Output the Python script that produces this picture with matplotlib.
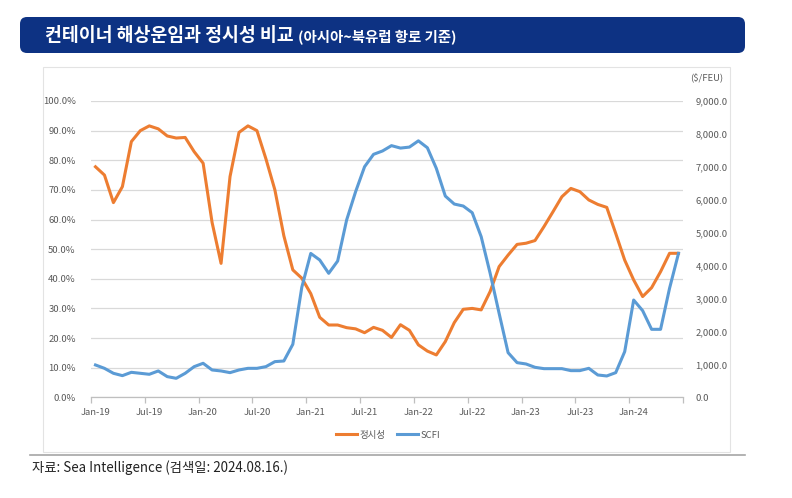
import matplotlib
matplotlib.use('Agg')
import matplotlib.pyplot as plt
from matplotlib.patches import FancyBboxPatch, Rectangle
from matplotlib.ticker import FixedLocator, PercentFormatter, FuncFormatter

plt.rcParams['font.family'] = ['Noto Sans CJK KR', 'DejaVu Sans']

# Consts
ORANGE = '#ED7D31'
BLUE = '#5B9BD5'
GRAY = '#595959'
GRID = '#D9D9D9'
NAVY = '#0D3283'

# monthly, Jan-19 .. Jun-24
on_time = [77.8, 75.0, 65.7, 71.1, 86.3, 90.0, 91.6, 90.6, 88.2, 87.5,
           87.7, 82.9, 79.0, 59.0, 45.2, 74.5, 89.4, 91.6, 90.0, 80.5,
           70.0, 54.5, 43.0, 40.2, 35.0, 27.0, 24.4, 24.4, 23.5, 23.1,
           21.8, 23.6, 22.6, 20.2, 24.5, 22.6, 17.7, 15.6, 14.3, 18.8,
           25.2, 29.7, 30.0, 29.5, 35.7, 44.1, 48.0, 51.6, 52.0, 52.9,
           57.6, 62.6, 67.7, 70.5, 69.4, 66.6, 65.1, 64.1, 55.3, 46.3,
           39.6, 34.0, 37.0, 42.4, 48.6, 48.6]
scfi = [982, 880, 729, 658, 759, 729, 699, 800, 628, 577,
        729, 931, 1033, 830, 800, 749, 830, 880, 880, 931,
        1083, 1103, 1610, 3340, 4370, 4171, 3766, 4140, 5386, 6245,
        7004, 7380, 7482, 7644, 7570, 7600, 7790, 7580, 6953, 6113,
        5870, 5810, 5607, 4879, 3765, 2550, 1356, 1053, 1012, 911,
        870, 870, 870, 810, 810, 880, 678, 648, 749, 1387,
        2955, 2632, 2065, 2065, 3310, 4372]
tick_labels = ['Jan-19', 'Jul-19', 'Jan-20', 'Jul-20', 'Jan-21', 'Jul-21',
               'Jan-22', 'Jul-22', 'Jan-23', 'Jul-23', 'Jan-24']

W, H = 792, 498


def px_box(x0, y0, x1, y1):
    # pixel box (top-left origin) -> figure fraction rect
    return [x0 / W, 1 - y1 / H, (x1 - x0) / W, (y1 - y0) / H]


def main():
    fig = plt.figure(figsize=(W / 100, H / 100), dpi=100)
    fig.patch.set_facecolor('white')

    # decoration layer in pixel units
    deco = fig.add_axes([0, 0, 1, 1], zorder=0)
    deco.set_xlim(0, W)
    deco.set_ylim(H, 0)
    deco.axis('off')
    deco.add_patch(FancyBboxPatch((20, 17), 725, 36,
                                  boxstyle='round,pad=0,rounding_size=7',
                                  facecolor=NAVY, edgecolor='none'))
    title = deco.text(45, 35.5, '컨테이너 해상운임과 정시성 비교', color='white',
                      fontsize=13.2, fontweight='bold', va='center', ha='left')
    # put the subtitle right after the title
    fig.canvas.draw()
    bb = title.get_window_extent()
    sub_x = bb.x1 + 4
    deco.text(sub_x, 36.5, '(아시아~북유럽 항로 기준)', color='white',
              fontsize=10.4, fontweight='bold', va='center', ha='left')
    deco.add_patch(Rectangle((43, 67), 687, 385, facecolor='white',
                             edgecolor='#E3E3E3', linewidth=0.8))
    deco.plot([30, 745], [455, 455], color='#A6A6A6', linewidth=1.2)
    deco.text(32, 468, '자료: Sea Intelligence (검색일: 2024.08.16.)',
              fontsize=9.6, color='#222222', va='center', ha='left')
    deco.text(723, 78, '($/FEU)', fontsize=6.8, color=GRAY,
              va='center', ha='right')

    x = list(range(len(on_time)))

    ax = fig.add_axes(px_box(91, 101, 683, 397.3), zorder=1)
    ax.patch.set_alpha(0)
    ax.plot(x, on_time, color=ORANGE, linewidth=2.2, label='정시성',
            solid_joinstyle='round')
    ax.set_ylim(0, 100)
    ax.set_xlim(-0.5, len(x) - 0.5)
    ax.set_yticks(range(0, 101, 10))
    ax.yaxis.set_major_formatter(PercentFormatter(decimals=1))
    ax.grid(axis='y', color=GRID, linewidth=0.9)
    ax.set_axisbelow(True)
    for s in ['top', 'left', 'right']:
        ax.spines[s].set_visible(False)
    ax.spines['bottom'].set_color('#BFBFBF')
    ax.spines['bottom'].set_linewidth(0.9)
    ax.set_xticks(range(0, 61, 6))
    ax.set_xticklabels(tick_labels)
    ax.xaxis.set_minor_locator(FixedLocator([-0.5 + 6 * k for k in range(11)] + [len(x) - 0.5]))
    ax.tick_params(axis='x', which='major', length=0, pad=8, labelsize=6.8, labelcolor=GRAY)
    ax.tick_params(axis='x', which='minor', length=4, color='#BFBFBF', width=0.9)
    ax.tick_params(axis='y', length=0, pad=11, labelsize=6.8, labelcolor=GRAY)

    ax2 = ax.twinx()
    ax2.plot(x, scfi, color=BLUE, linewidth=2.2, label='SCFI',
             solid_joinstyle='round')
    ax2.set_ylim(0, 9000)
    ax2.set_yticks(range(0, 9001, 1000))
    ax2.yaxis.set_major_formatter(FuncFormatter(lambda v, p: f'{v:,.1f}'))
    ax2.tick_params(axis='y', length=0, pad=9, labelsize=6.8, labelcolor=GRAY)
    for s in ['top', 'left', 'right', 'bottom']:
        ax2.spines[s].set_visible(False)

    h1, l1 = ax.get_legend_handles_labels()
    h2, l2 = ax2.get_legend_handles_labels()
    fig.legend(h1 + h2, l1 + l2, loc='center', bbox_to_anchor=(388 / W, 1 - 435 / H),
               ncol=2, frameon=False, fontsize=6.8, labelcolor=GRAY,
               handlelength=2.2, handletextpad=0.3, columnspacing=1.2)

    fig.savefig('out.png', dpi=100)


if __name__ == '__main__':
    main()
